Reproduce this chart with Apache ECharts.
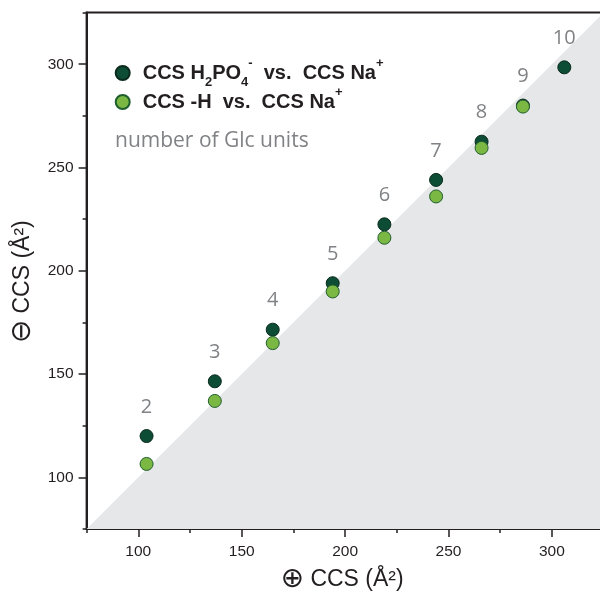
<!DOCTYPE html>
<html><head><meta charset="utf-8">
<script src="https://cdn.jsdelivr.net/npm/echarts@6/dist/echarts.min.js"></script>
<style>html,body{margin:0;padding:0;background:#fff}#c{width:600px;height:593px}</style>
</head><body><div id="c"></div>
<script>
const glcUnits = [2, 3, 4, 5, 6, 7, 8, 9, 10];
const ccsNa = [104, 137, 165, 194, 219, 244, 266, 286, 306];
const ccsH2PO4 = [120, 146.5, 171.5, 194, 222.5, 244, 262.5, 280, 298.5];
const ccsDeprot = [106.5, 137, 165, 190, 216, 236, 259.5, 279.5, null];
const majorTicks = [100, 150, 200, 250, 300];
const minorTicks = [75, 125, 175, 225, 275, 325];
const axisRange = [75, 325];
const seriesNames = ['CCS H2PO4- vs. CCS Na+', 'CCS -H vs. CCS Na+'];
const legendRich = {
  'CCS H2PO4- vs. CCS Na+': '{b|CCS H}{sub|2}{b|PO}{sub|4}{sup|-}{b|  vs.  CCS Na}{sup|+}',
  'CCS -H vs. CCS Na+': '{b|CCS -H  vs.  CCS Na}{sup|+}'
};
const noteText = 'number of Glc units';
const xName = '{c|\u2295}{t| CCS (\u00C5\u00B2)}';
const yName = '{c|\u2296}{t| CCS (\u00C5\u00B2)}';

const ink = '#231f20';
const darkData = ccsNa.map((x, i) => [x, ccsH2PO4[i]]);
const lightData = ccsNa.map((x, i) => [x, ccsDeprot[i]]).filter(d => d[1] !== null);
const diagData = [[axisRange[0], axisRange[0]], [axisRange[1], axisRange[1]]];

function mkAxis(isX, name, gap) {
  const main = {
    type: 'value', min: axisRange[0], max: axisRange[1],
    position: isX ? 'bottom' : 'left',
    axisLine: {show: true, lineStyle: {color: ink, width: 2}},
    axisTick: {show: true, inside: false, length: 8, customValues: majorTicks, lineStyle: {color: ink, width: 1.5}},
    axisLabel: {show: true, customValues: majorTicks, margin: isX ? 15 : 13, color: ink, fontSize: 15.5, fontFamily: 'Liberation Sans'},
    splitLine: {show: false},
    name: name, nameLocation: 'middle', nameGap: gap,
    nameTextStyle: {
      color: ink, fontFamily: 'Liberation Sans', padding: isX ? [0, 6, 0, 0] : [0, 22, 0, 0],
      rich: {
        c: {color: ink, fontFamily: 'DejaVu Sans', fontSize: 28, lineHeight: 28},
        t: {color: ink, fontFamily: 'Liberation Sans', fontSize: 23, lineHeight: 28}
      }
    }
  };
  const minor = {
    type: 'value', min: axisRange[0], max: axisRange[1],
    position: isX ? 'bottom' : 'left',
    axisLine: {show: false},
    axisTick: {show: true, inside: false, length: 4, customValues: minorTicks, lineStyle: {color: ink, width: 1.5}},
    axisLabel: {show: false},
    splitLine: {show: false}
  };
  return [main, minor];
}

const chart = echarts.init(document.getElementById('c'), null, {renderer: 'canvas'});
chart.setOption({
  animation: false,
  backgroundColor: '#ffffff',
  grid: {left: 86.6, right: -3.6, top: 12.6, bottom: 64, containLabel: false, outerBoundsMode: 'none',
    show: true, borderColor: ink, borderWidth: 2, backgroundColor: 'transparent'},
  xAxis: mkAxis(true, xName, 37),
  yAxis: mkAxis(false, yName, 48),
  legend: {
    show: true, orient: 'vertical', left: 114.7, top: 57, padding: 0, itemGap: -3,
    icon: 'circle', itemWidth: 14, itemHeight: 14,
    data: seriesNames,
    formatter: n => '{g| }' + legendRich[n],
    textStyle: {
      color: ink, fontFamily: 'Liberation Sans', fontWeight: 'bold', fontSize: 20,
      rich: {
        g: {width: 8, fontSize: 20, lineHeight: 32},
        b: {color: ink, fontFamily: 'Liberation Sans', fontWeight: 'bold', fontSize: 20, lineHeight: 32},
        sub: {color: ink, fontFamily: 'Liberation Sans', fontWeight: 'bold', fontSize: 13, lineHeight: 12, verticalAlign: 'bottom'},
        sup: {color: ink, fontFamily: 'Liberation Sans', fontWeight: 'bold', fontSize: 13, lineHeight: 12, verticalAlign: 'top'}
      }
    }
  },
  graphic: [{
    type: 'text', left: 115, top: 131,
    style: {text: noteText, fill: '#808285', font: '21px "Open Sans"'}
  }],
  series: [
    {
      type: 'line', name: 'diag', data: diagData, symbol: 'none', silent: true, z: 1,
      lineStyle: {width: 0, opacity: 0},
      areaStyle: {color: '#e6e7e8', opacity: 1, origin: 'start'}
    },
    {
      type: 'scatter', name: seriesNames[0], data: darkData, symbolSize: 13, z: 3,
      itemStyle: {color: '#0d4d36', borderColor: '#0a2a1c', borderWidth: 1, opacity: 1},
      label: {
        show: true, position: 'top', distance: 12,
        formatter: p => String(glcUnits[p.dataIndex]),
        color: '#808285', fontFamily: 'Open Sans', fontSize: 20
      }
    },
    {
      type: 'scatter', name: seriesNames[1], data: lightData, symbolSize: 13, z: 4,
      itemStyle: {color: '#7ab843', borderColor: '#1f5e2e', borderWidth: 1, opacity: 1}
    }
  ]
});
</script></body></html>
